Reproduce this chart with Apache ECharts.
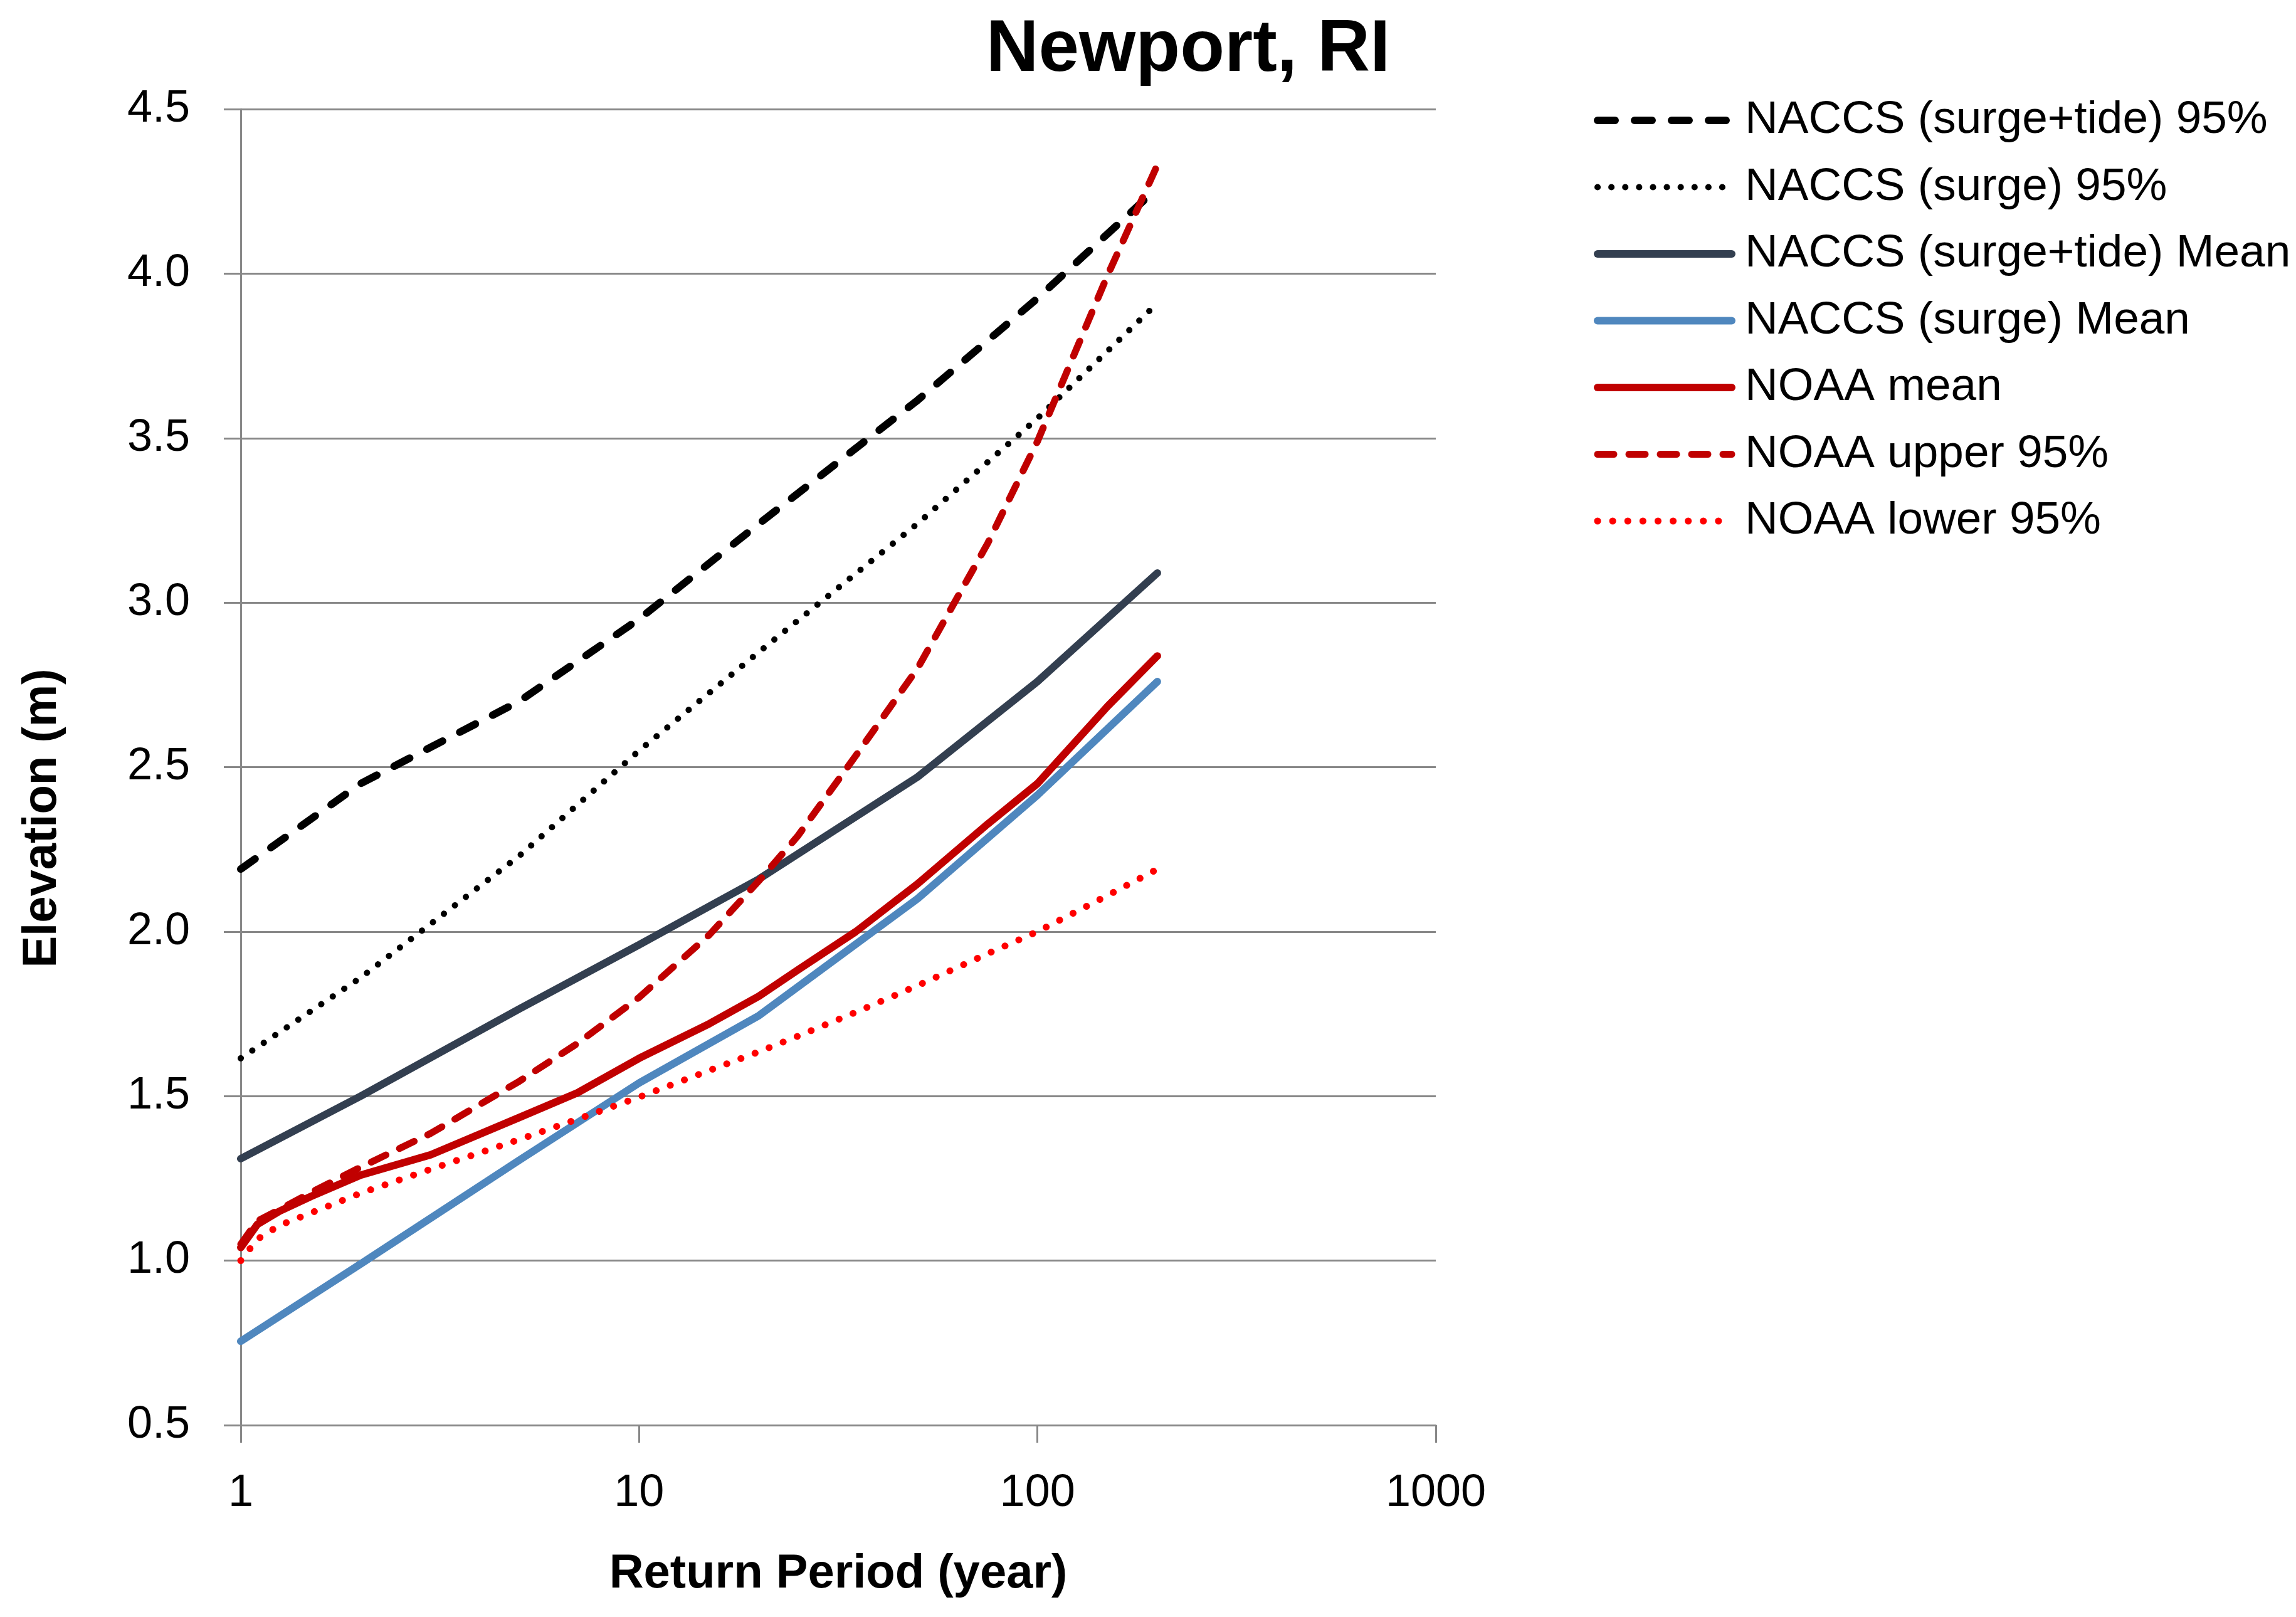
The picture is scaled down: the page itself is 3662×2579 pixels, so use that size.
<!DOCTYPE html>
<html>
<head>
<meta charset="utf-8">
<script src="https://cdn.jsdelivr.net/npm/echarts@6/dist/echarts.min.js"></script>
<style>
html,body{margin:0;padding:0;background:#fff;}
#chart{width:3662px;height:2579px;}
</style>
</head>
<body>
<div id="chart"></div>
<script>
// ---- data ----
const titleText = 'Newport, RI';
const xAxisTitle = 'Return Period (year)';
const yAxisTitle = 'Elevation (m)';
const yTicks = [0.5, 1.0, 1.5, 2.0, 2.5, 3.0, 3.5, 4.0, 4.5];
const xTicks = [1, 10, 100, 1000];

const seriesNames = [
  'NACCS (surge+tide) 95%',
  'NACCS (surge) 95%',
  'NACCS (surge+tide) Mean',
  'NACCS (surge) Mean',
  'NOAA mean',
  'NOAA upper 95%',
  'NOAA lower 95%'
];

const naccsX = [1, 2, 5, 10, 20, 50, 100, 200];
const naccsSurgeTide95 = [2.19, 2.45, 2.70, 2.95, 3.24, 3.615, 3.925, 4.26];
const naccsSurge95 = [1.615, 1.86, 2.23, 2.55, 2.85, 3.24, 3.56, 3.91];
const naccsSurgeTideMean = [1.31, 1.50, 1.765, 1.96, 2.16, 2.47, 2.76, 3.09];
const naccsSurgeMean = [0.755, 0.99, 1.305, 1.54, 1.745, 2.10, 2.415, 2.76];

const noaaX = [1, 1.1, 1.25, 1.5, 2, 3, 5, 7, 10, 15, 20, 25, 35, 50, 75, 100, 150, 200];
const noaaMean = [1.04, 1.11, 1.15, 1.195, 1.26, 1.322, 1.435, 1.51, 1.615, 1.72, 1.804, 1.883, 2.0, 2.145, 2.327, 2.45, 2.685, 2.838];
const noaaUpper = [1.05, 1.12, 1.155, 1.207, 1.284, 1.387, 1.545, 1.66, 1.80, 1.99, 2.155, 2.29, 2.535, 2.80, 3.18, 3.49, 3.995, 4.33];
const noaaLower = [1.0, 1.065, 1.107, 1.145, 1.205, 1.278, 1.368, 1.43, 1.497, 1.578, 1.635, 1.682, 1.755, 1.836, 1.933, 2.0, 2.11, 2.19];

// ---- build ----
function pairs(xs, ys) { return xs.map((x, i) => [x, ys[i]]); }

const FONT = '"Liberation Sans", Arial, sans-serif';
const GRAY = '#888888';

const styles = [
  { color: '#000000', width: 12, type: [28, 31] },
  { color: '#000000', width: 10, type: [0.1, 22] },
  { color: '#333F50', width: 12, type: 'solid' },
  { color: '#4F87BE', width: 12, type: 'solid' },
  { color: '#C00000', width: 12, type: 'solid' },
  { color: '#C00000', width: 11, type: [26, 24] },
  { color: '#FF0000', width: 11, type: [0.1, 24] }
];
const dataSets = [
  pairs(naccsX, naccsSurgeTide95),
  pairs(naccsX, naccsSurge95),
  pairs(naccsX, naccsSurgeTideMean),
  pairs(naccsX, naccsSurgeMean),
  pairs(noaaX, noaaMean),
  pairs(noaaX, noaaUpper),
  pairs(noaaX, noaaLower)
];

const series = seriesNames.map((name, i) => ({
  name: name,
  type: 'line',
  data: dataSets[i],
  symbol: 'none',
  showSymbol: false,
  smooth: false,
  animation: false,
  color: styles[i].color,
  lineStyle: {
    color: styles[i].color,
    width: styles[i].width,
    type: styles[i].type,
    cap: 'round',
    join: 'round'
  }
}));

const chart = echarts.init(document.getElementById('chart'), null, { renderer: 'canvas' });
chart.setOption({
  backgroundColor: '#ffffff',
  animation: false,
  grid: { left: 384, right: 1372, top: 174, bottom: 306, containLabel: false },
  xAxis: {
    type: 'log',
    logBase: 10,
    min: xTicks[0],
    max: xTicks[xTicks.length - 1],
    axisLine: { show: true, onZero: false, lineStyle: { color: GRAY, width: 3 } },
    axisTick: { show: true, length: 28, lineStyle: { color: GRAY, width: 3 } },
    minorTick: { show: false },
    splitLine: { show: false },
    axisLabel: { fontFamily: FONT, fontSize: 72, color: '#000', margin: 73,
      formatter: v => String(Math.round(v)) }
  },
  yAxis: {
    type: 'value',
    min: yTicks[0],
    max: yTicks[yTicks.length - 1],
    interval: 0.5,
    axisLine: { show: true, lineStyle: { color: GRAY, width: 3 } },
    axisTick: { show: true, length: 27, lineStyle: { color: GRAY, width: 3 } },
    splitLine: { show: true, lineStyle: { color: GRAY, width: 3 } },
    axisLabel: { fontFamily: FONT, fontSize: 72, color: '#000', margin: 81,
      formatter: v => v.toFixed(1) }
  },
  legend: {
    show: true,
    orient: 'vertical',
    left: 2537,
    top: 147,
    itemWidth: 214,
    itemHeight: 14,
    itemGap: 26.5,
    align: 'left',
    data: seriesNames,
    itemStyle: { opacity: 0 },
    lineStyle: { width: 'inherit', type: 'inherit', cap: 'inherit', join: 'inherit', color: 'inherit' },
    textStyle: { fontFamily: FONT, fontSize: 73, color: '#000', lineHeight: 80, padding: [0, 0, 0, 16] }
  },
  graphic: [
    { type: 'text', x: 1895, y: 81,
      style: { text: titleText, font: 'bold 116px ' + FONT, fill: '#000', align: 'center', verticalAlign: 'middle' } },
    { type: 'text', x: 1337, y: 2511,
      style: { text: xAxisTitle, font: 'bold 76px ' + FONT, fill: '#000', align: 'center', verticalAlign: 'middle' } },
    { type: 'text', x: 68, y: 1305, rotation: Math.PI / 2,
      style: { text: yAxisTitle, font: 'bold 76px ' + FONT, fill: '#000', align: 'center', verticalAlign: 'middle' } }
  ],
  series: series
});
</script>
</body>
</html>
